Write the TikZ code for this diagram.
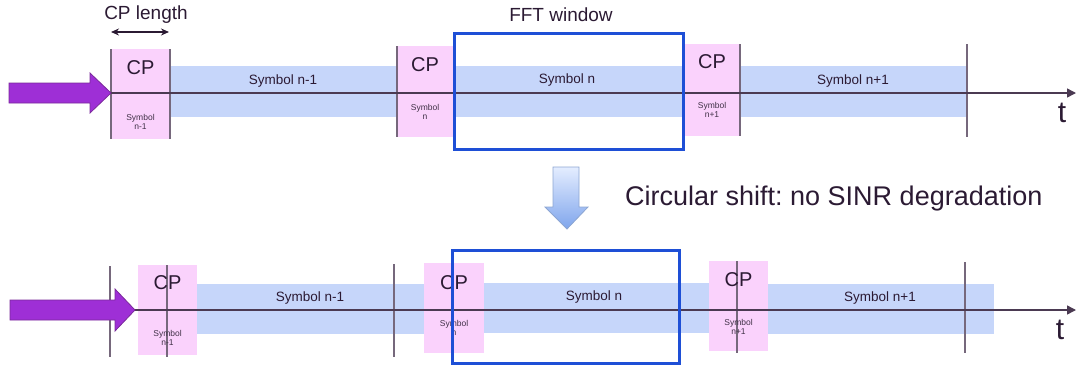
\documentclass[tikz,border=0pt]{standalone}
\usepackage{fontspec}
\setmainfont{Liberation Sans}
\usetikzlibrary{arrows.meta}
\frenchspacing
\definecolor{pinkfill}{HTML}{FAD2FC}
\definecolor{bandfill}{HTML}{C6D6FA}
\definecolor{axiscol}{HTML}{4B3A52}
\definecolor{vlinecol}{HTML}{76687C}
\definecolor{purp}{HTML}{9E2FD6}
\definecolor{purpedge}{HTML}{7A2A9A}
\definecolor{fftblue}{HTML}{1E4FD6}
\definecolor{txt}{HTML}{2B1A33}
\definecolor{arrtop}{HTML}{E4EDFF}
\definecolor{arrbot}{HTML}{7FA5EC}
\definecolor{arredge}{HTML}{8DA6D2}
\begin{document}
\begin{tikzpicture}[x=1pt,y=-1pt,
  cpbox/.style={fill=pinkfill, inner sep=0pt, draw=none},
  band/.style={fill=bandfill, inner sep=0pt, draw=none},
  fftbox/.style={draw=fftblue, line width=3pt, inner sep=0pt, fill=none},
  vl/.style={draw=vlinecol, line width=1.1pt},
  axis/.style={draw=axiscol, line width=1.5pt, -{Triangle[length=9pt,width=9pt]}},
  purparrow/.style={fill=purp, draw=purpedge, line width=0.8pt, line join=miter},
  downarrow/.style={top color=arrtop, bottom color=arrbot, draw=arredge, line width=0.8pt},
  big/.style={font=\fontsize{20}{22}\selectfont, text=txt, inner sep=0pt},
  sym/.style={font=\fontsize{13.5}{15}\selectfont, text=txt, inner sep=0pt},
  small/.style={font=\fontsize{8.5}{9.5}\selectfont, text=txt!90, align=center, inner sep=0pt},
  head/.style={font=\fontsize{19}{21}\selectfont, text=txt, inner sep=0pt},
  tlab/.style={font=\fontsize{30}{32}\selectfont, text=txt, inner sep=0pt},
  caption/.style={font=\fontsize{27}{30}\selectfont, text=txt, inner sep=0pt}
]
\useasboundingbox (0,0) rectangle (1076,365);

% ---------------- top row ----------------
\node[band, minimum width=227pt, minimum height=51pt] (tb1) at (283.5,91.5) {};
\node[band, minimum width=231pt, minimum height=51pt] (tb2) at (568.5,91.5) {};
\node[band, minimum width=227pt, minimum height=51pt] (tb3) at (853.5,91.5) {};
\node[cpbox, minimum width=59pt, minimum height=90pt] (tcp1) at (140.5,94) {};
\node[cpbox, minimum width=56pt, minimum height=91pt] (tcp2) at (425,91.5) {};
\node[cpbox, minimum width=56pt, minimum height=92pt] (tcp3) at (712,90) {};

\draw[vl] (111,49) -- (111,139);
\draw[vl] (170,49) -- (170,139);
\draw[vl] (397,46) -- (397,137);
\draw[vl] (740,44) -- (740,136);
\draw[vl] (967,44) -- (967,137);

\coordinate (ta0) at (111,93);
\coordinate (ta1) at (1076,93);
\draw[axis] (ta0) -- (ta1);

\node[big] (tcpl1) at (140.5,68) {CP};
\node[big] (tcpl2) at (425,65) {CP};
\node[big] (tcpl3) at (712,62) {CP};
\node[small] (tsm1) at (140.5,122) {Symbol\\n-1};
\node[small] (tsm2) at (425,112) {Symbol\\n};
\node[small] (tsm3) at (712,110) {Symbol\\n+1};
\node[sym] (tsl1) at (283,81) {Symbol n-1};
\node[sym] (tsl2) at (567,80) {Symbol n};
\node[sym] (tsl3) at (853,81) {Symbol n+1};

\node[fftbox, minimum width=229pt, minimum height=116pt] (fft1) at (568.5,91) {};
\node[head] (fftl) at (561,15) {FFT window};
\node[head] (cpl) at (146,15) {CP length};
\coordinate (cpa) at (111,32);
\coordinate (cpb) at (169,32);
\draw[draw=txt, line width=1.3pt, {Stealth[length=8pt,width=7pt]}-{Stealth[length=8pt,width=7pt]}] (cpa) -- (cpb);

\draw[purparrow] (9,83) -- (90,83) -- (90,73) -- (111,93) -- (90,113) -- (90,103) -- (9,103) -- cycle;
\node[tlab] (tt) at (1062,113) {t};

% ---------------- middle ----------------
\path[downarrow] (553,167) -- (579,167) -- (579,207) -- (588,207) -- (567,229) -- (545,207) -- (553,207) -- cycle;
\node[caption, anchor=base west] (cap) at (625,205) {Circular shift: no SINR degradation};

% ---------------- bottom row ----------------
\node[band, minimum width=227pt, minimum height=50pt] (bb1) at (310.5,309) {};
\node[band, minimum width=225pt, minimum height=50pt] (bb2) at (596.5,308) {};
\node[band, minimum width=226pt, minimum height=50pt] (bb3) at (881,309) {};
\node[cpbox, minimum width=59pt, minimum height=90pt] (bcp1) at (167.5,310) {};
\node[cpbox, minimum width=60pt, minimum height=90pt] (bcp2) at (454,308) {};
\node[cpbox, minimum width=59pt, minimum height=90pt] (bcp3) at (738.5,306) {};

\draw[vl] (110,266) -- (110,357);
\draw[vl] (167,265) -- (167,357);
\draw[vl] (394,264) -- (394,357);
\draw[vl] (737,261) -- (737,353);
\draw[vl] (965,262) -- (965,353);

\coordinate (ba0) at (135,310);
\coordinate (ba1) at (1076,310);
\draw[axis] (ba0) -- (ba1);

\node[big] (bcpl1) at (167.5,283) {CP};
\node[big] (bcpl2) at (454,283) {CP};
\node[big] (bcpl3) at (738.5,280) {CP};
\node[small] (bsm1) at (167.5,338) {Symbol\\n-1};
\node[small] (bsm2) at (454,328) {Symbol\\n};
\node[small] (bsm3) at (738.5,327) {Symbol\\n+1};
\node[sym] (bsl1) at (310,298) {Symbol n-1};
\node[sym] (bsl2) at (594,297) {Symbol n};
\node[sym] (bsl3) at (880,298) {Symbol n+1};

\node[fftbox, minimum width=227pt, minimum height=113pt] (fft2) at (565.5,306.5) {};

\draw[purparrow] (10,300) -- (115,300) -- (115,289) -- (135,310) -- (115,331) -- (115,320) -- (10,320) -- cycle;
\node[tlab] (bt) at (1060,330) {t};
\end{tikzpicture}
\end{document}
